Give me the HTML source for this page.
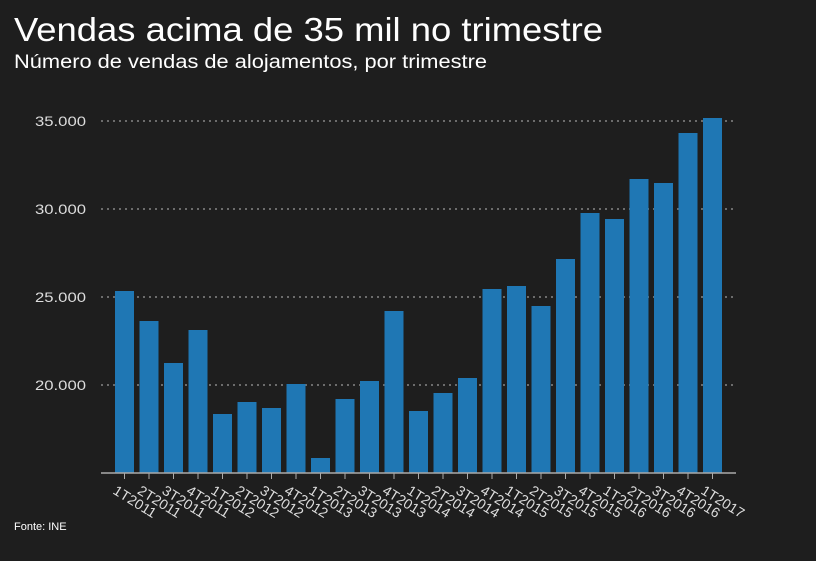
<!DOCTYPE html>
<html><head><meta charset="utf-8"><style>
body{margin:0;background:#1e1e1e;}
svg{display:block;font-family:"Liberation Sans",sans-serif;}
</style></head><body>
<svg width="816" height="561" viewBox="0 0 816 561">
<rect width="816" height="561" fill="#1e1e1e"/>
<text x="14" y="41" fill="#fff" font-size="33" textLength="589" lengthAdjust="spacingAndGlyphs">Vendas acima de 35 mil no trimestre</text>
<text x="14" y="68" fill="#fff" font-size="19" textLength="473" lengthAdjust="spacingAndGlyphs">Número de vendas de alojamentos, por trimestre</text>
<g stroke="#bbb" stroke-dasharray="2,4" stroke-width="1">
<line x1="101" x2="736" y1="121" y2="121"/><line x1="101" x2="736" y1="209" y2="209"/>
<line x1="101" x2="736" y1="297" y2="297"/><line x1="101" x2="736" y1="385" y2="385"/>
</g>
<g fill="#ddd" font-size="14">
<text x="35" y="126" textLength="51" lengthAdjust="spacingAndGlyphs">35.000</text><text x="35" y="214" textLength="51" lengthAdjust="spacingAndGlyphs">30.000</text>
<text x="35" y="302" textLength="51" lengthAdjust="spacingAndGlyphs">25.000</text><text x="35" y="390" textLength="51" lengthAdjust="spacingAndGlyphs">20.000</text>
</g>
<g id="bars" fill="#1f77b4"></g>
<line x1="101" x2="736" y1="473" y2="473" stroke="#aaa" stroke-width="1.5"/>
<g id="ticks" stroke="#aaa"></g>
<g id="labels" fill="#ddd" font-size="14"></g>
<text x="14" y="530" fill="#fff" font-size="11">Fonte: INE</text>
<script>
var tops=[291,321,363,330,414,402,408,384,458,399,381,311,411,393,378,289,286,306,259,213,219,179,183,133,118];
var b=document.getElementById('bars'),t=document.getElementById('ticks'),l=document.getElementById('labels');
var ns='http://www.w3.org/2000/svg';
for(var i=0;i<25;i++){
 var x=115+i*24.5;
 var r=document.createElementNS(ns,'rect');r.setAttribute('x',x);r.setAttribute('width',19);r.setAttribute('y',tops[i]);r.setAttribute('height',473-tops[i]);b.appendChild(r);
 var ln=document.createElementNS(ns,'line');ln.setAttribute('x1',x+9.5);ln.setAttribute('x2',x+9.5);ln.setAttribute('y1',473);ln.setAttribute('y2',479);t.appendChild(ln);
 var q=(i%4)+1,y=2011+Math.floor(i/4);
 var tx=document.createElementNS(ns,'text');var lx=x-3,ly=493;
 tx.setAttribute('x',lx);tx.setAttribute('y',ly);tx.setAttribute('transform','rotate(32 '+lx+' '+ly+')');
 tx.setAttribute('textLength',48);tx.setAttribute('lengthAdjust','spacingAndGlyphs');
 tx.textContent=q+'T'+y;l.appendChild(tx);
}
</script>
</svg>
</body></html>
